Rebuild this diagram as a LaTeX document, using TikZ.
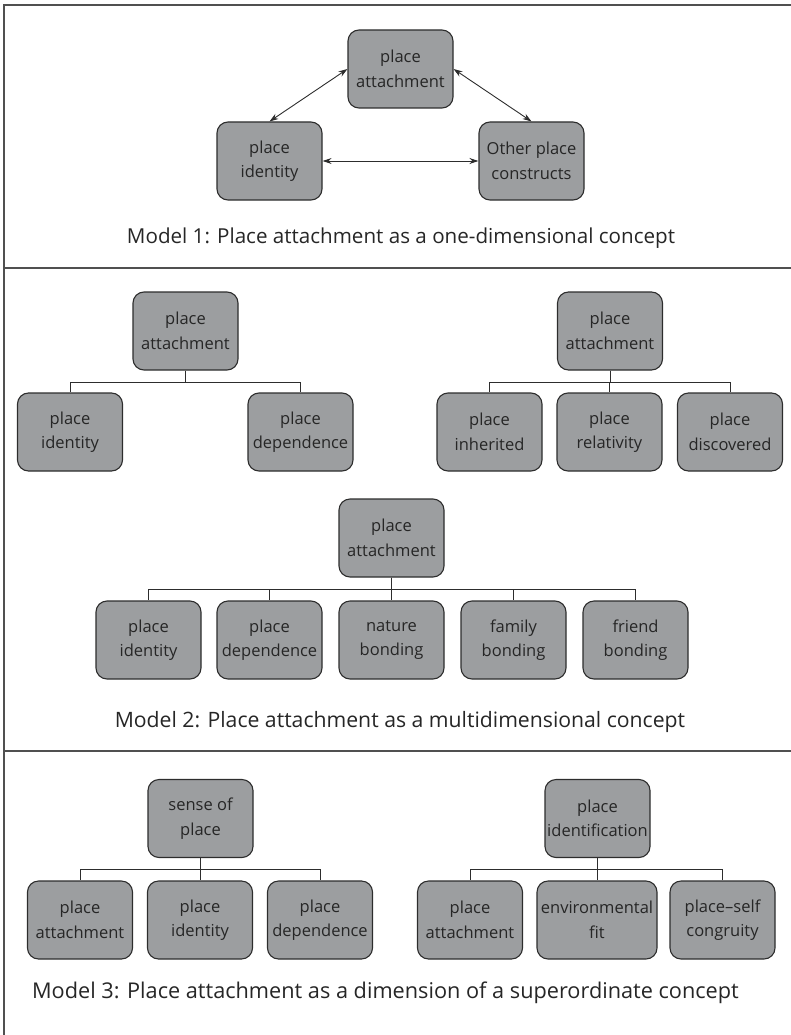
\documentclass[tikz,border=0pt]{standalone}
\usepackage{fontspec}
\setmainfont{Open Sans}
\usetikzlibrary{arrows.meta}
\definecolor{boxfill}{RGB}{156,158,160}
\definecolor{boxline}{RGB}{45,45,45}
\definecolor{rule}{RGB}{80,80,80}
\begin{document}
\begin{tikzpicture}[x=1pt,y=-1pt,
  cbox/.style={draw=boxline, fill=boxfill, line width=1.1pt, rounded corners=11pt,
    minimum width=105pt, minimum height=78pt, inner sep=0pt, align=center,
    font=\fontsize{16.5}{24.5}\selectfont, text=black!85},
  link/.style={draw=boxline, line width=0.9pt},
  dbl/.style={link, {Stealth[length=9pt,width=6pt]}-{Stealth[length=9pt,width=6pt]}},
  caption/.style={font=\fontsize{20.6}{24}\selectfont, text=black!85},
  frame/.style={draw=rule, line width=1.2pt}]
\useasboundingbox (0,0) rectangle (791,1035);
% frame and dividers
\coordinate (fTL) at (4,5);
\coordinate (fTR) at (791,5);
\coordinate (fBL) at (4,1035);
\coordinate (d1L) at (4,268);
\coordinate (d1R) at (791,268);
\coordinate (d2L) at (4,751);
\coordinate (d2R) at (791,751);
\draw[frame] (fTR) -- (fTL) -- (fBL);
\draw[frame] (d1L) -- (d1R);
\draw[frame] (d2L) -- (d2R);

% Model 1
\node[cbox] (m1a) at (400.5,69) {place\\attachment};
\node[cbox] (m1i) at (269.5,161) {place\\identity};
\node[cbox] (m1o) at (531.5,161) {Other place\\constructs};
\draw[dbl] (m1a.west) -- (m1i.north);
\draw[dbl] (m1a.east) -- (m1o.north);
\draw[dbl] (m1i.east) -- (m1o.west);
\node[caption] (c1) at (401,238) {Model 1: Place attachment as a one-dimensional concept};

% Model 2a
\node[cbox] (a0) at (185.5,331) {place\\attachment};
\node[cbox] (a1) at (70,432) {place\\identity};
\node[cbox] (a2) at (300.5,432) {place\\dependence};
\foreach \c in {a1,a2} \draw[link] (a0.south) -- ++(0,11.5) -| (\c.north);

% Model 2b
\node[cbox] (b0) at (610,331) {place\\attachment};
\node[cbox] (b1) at (489.5,432) {place\\inherited};
\node[cbox] (b2) at (609.5,432) {place\\relativity};
\node[cbox] (b3) at (730,432) {place\\discovered};
\foreach \c in {b1,b2,b3} \draw[link] (b0.south) -- ++(0,11.5) -| (\c.north);

% Model 2c
\node[cbox] (e0) at (391.5,538) {place\\attachment};
\node[cbox] (e1) at (148.5,640) {place\\identity};
\node[cbox] (e2) at (269.5,640) {place\\dependence};
\node[cbox] (e3) at (391.5,640) {nature\\bonding};
\node[cbox] (e4) at (513.5,640) {family\\bonding};
\node[cbox] (e5) at (635.5,640) {friend\\bonding};
\foreach \c in {e1,e2,e3,e4,e5} \draw[link] (e0.south) -- ++(0,11.5) -| (\c.north);
\node[caption, font=\fontsize{21.2}{25}\selectfont] (c2) at (400,722) {Model 2: Place attachment as a multidimensional concept};

% Model 3a
\node[cbox] (s0) at (200.5,818.5) {sense of\\place};
\node[cbox] (s1) at (80,920) {place\\attachment};
\node[cbox] (s2) at (200,920) {place\\identity};
\node[cbox] (s3) at (320,920) {place\\dependence};
\foreach \c in {s1,s2,s3} \draw[link] (s0.south) -- ++(0,11.5) -| (\c.north);

% Model 3b
\node[cbox] (p0) at (597.5,818.5) {place\\identification};
\node[cbox] (p1) at (470,920) {place\\attachment};
\node[cbox, minimum width=120pt] (p2) at (597,920) {environmental\\fit};
\node[cbox] (p3) at (722.5,920) {place--self\\congruity};
\foreach \c in {p1,p2,p3} \draw[link] (p0.south) -- ++(0,11.5) -| (\c.north);
\node[caption, font=\fontsize{21.7}{26}\selectfont] (c3) at (385.5,993) {Model 3: Place attachment as a dimension of a superordinate concept};
\end{tikzpicture}
\end{document}
